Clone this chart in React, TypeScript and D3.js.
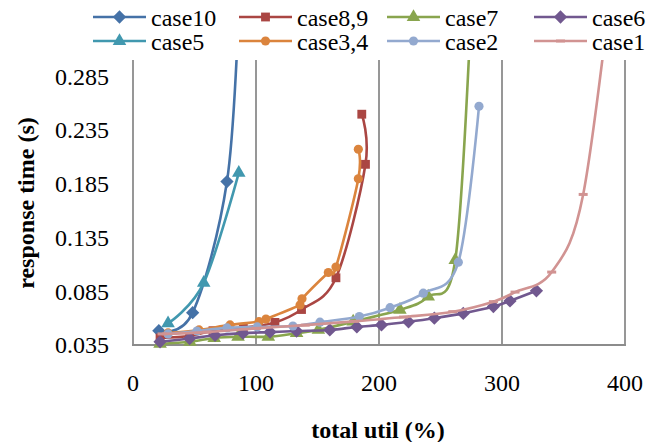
import { useEffect, useRef } from 'react';
import * as d3 from 'd3';

// series data: total util (%) and response time (s)
const case10Util = [21, 48.5, 76.4, 86];
const case10Resp = [0.0483, 0.0651, 0.187, 0.35];

const case89Util = [22, 46, 65, 89.7, 115.4, 137, 165, 189, 186];
const case89Resp = [0.0415, 0.0434, 0.0483, 0.0511, 0.056, 0.068, 0.0975, 0.203, 0.2496];

const case7Util = [22, 46.3, 66, 85.4, 110, 133, 150.7, 179, 217, 240, 262, 275];
const case7Resp = [0.036, 0.038, 0.0415, 0.0427, 0.0427, 0.046, 0.049, 0.0567, 0.0677, 0.08, 0.114, 0.35];

const case6Util = [22, 46, 66.7, 89.4, 111.4, 133, 160, 182, 202, 224, 245, 268.5, 293, 306.5, 328];
const case6Resp = [0.038, 0.041, 0.044, 0.046, 0.047, 0.048, 0.049, 0.0518, 0.0537, 0.0566, 0.0599, 0.0644, 0.0707, 0.076, 0.0854];

const case5Util = [28.5, 57.5, 86];
const case5Resp = [0.0552, 0.0928, 0.195];

const case34Util = [28.5, 53.7, 78.9, 102.4, 108.1, 135.8, 137.4, 158.8, 165, 183.2, 183.2];
const case34Resp = [0.0462, 0.049, 0.0537, 0.0567, 0.0591, 0.0723, 0.0779, 0.1024, 0.1075, 0.1896, 0.217];

const case2Util = [28.5, 52, 76.4, 101, 130, 152, 184, 209, 236, 264.5, 281.3];
const case2Resp = [0.0453, 0.048, 0.0509, 0.0518, 0.0527, 0.0562, 0.0615, 0.0697, 0.0832, 0.112, 0.257];

const case1Util = [23.6, 60, 100, 140, 180, 220, 260, 293, 310.6, 340.4, 366, 392];
const case1Resp = [0.0453, 0.047, 0.0505, 0.0535, 0.057, 0.061, 0.066, 0.0753, 0.0842, 0.1028, 0.175, 0.4];

const xTicks = [0, 100, 200, 300, 400];
const yTicks = [0.035, 0.085, 0.135, 0.185, 0.235, 0.285];

const series = [
  { name: 'case10', util: case10Util, resp: case10Resp, color: '#4572A7', marker: 'diamond' },
  { name: 'case8,9', util: case89Util, resp: case89Resp, color: '#AA4643', marker: 'square' },
  { name: 'case7', util: case7Util, resp: case7Resp, color: '#89A54E', marker: 'triangle' },
  { name: 'case6', util: case6Util, resp: case6Resp, color: '#71588F', marker: 'diamond' },
  { name: 'case5', util: case5Util, resp: case5Resp, color: '#4198AF', marker: 'triangle' },
  { name: 'case3,4', util: case34Util, resp: case34Resp, color: '#DB843D', marker: 'circle' },
  { name: 'case2', util: case2Util, resp: case2Resp, color: '#93A9CF', marker: 'circle' },
  { name: 'case1', util: case1Util, resp: case1Resp, color: '#D19392', marker: 'dash' },
];

const FONT = "'Liberation Serif', 'Times New Roman', serif";
const FS = 24;

function drawMarker(g: any, kind: string, x: number, y: number, color: string) {
  if (kind === 'dash') {
    g.append('rect')
      .attr('x', x - 4.5)
      .attr('y', y - 1.5)
      .attr('width', 9)
      .attr('height', 3)
      .attr('fill', color);
    return;
  }
  let sym;
  let rot = 0;
  if (kind === 'diamond') {
    sym = d3.symbol(d3.symbolSquare, 88);
    rot = 45;
  } else if (kind === 'square') {
    sym = d3.symbol(d3.symbolSquare, 78);
  } else if (kind === 'triangle') {
    sym = d3.symbol(d3.symbolTriangle, 80);
  } else {
    sym = d3.symbol(d3.symbolCircle, 66);
  }
  g.append('path')
    .attr('d', sym())
    .attr('transform', `translate(${x},${y}) rotate(${rot})`)
    .attr('fill', color);
}

export default function App() {
  const svgRef = useRef<SVGSVGElement>(null);

  useEffect(() => {
    if (!svgRef.current) return;
    const width = 657;
    const height = 442;
    const left = 133;
    const right = 625;
    const top = 60;
    const bottom = 345;

    const svg = d3.select(svgRef.current);
    svg.selectAll('*').remove();
    svg.attr('width', width).attr('height', height);

    const x = d3.scaleLinear().domain([0, 400]).range([left, right]);
    const y = d3.scaleLinear().domain([0.035, 0.3]).range([bottom, top]);

    svg.append('rect').attr('width', width).attr('height', height).attr('fill', '#fff');

    // clip for lines that run past the top of the plot
    svg.append('clipPath')
      .attr('id', 'plotClip')
      .append('rect')
      .attr('x', 0)
      .attr('y', top)
      .attr('width', width)
      .attr('height', height - top);

    const grid = '#8c8c8c';
    // vertical gridlines
    xTicks.slice(1).forEach((t) => {
      svg.append('line')
        .attr('x1', x(t)).attr('x2', x(t))
        .attr('y1', top).attr('y2', bottom)
        .attr('stroke', grid).attr('stroke-width', 1.8);
    });
    // axis lines
    svg.append('line')
      .attr('x1', left).attr('x2', left)
      .attr('y1', top).attr('y2', bottom)
      .attr('stroke', grid).attr('stroke-width', 1.8);
    svg.append('line')
      .attr('x1', left - 1).attr('x2', right + 1)
      .attr('y1', bottom).attr('y2', bottom)
      .attr('stroke', grid).attr('stroke-width', 1.8);

    // tick labels
    yTicks.forEach((t) => {
      svg.append('text')
        .attr('x', 109)
        .attr('y', y(t))
        .attr('dy', '0.35em')
        .attr('text-anchor', 'end')
        .attr('font-family', FONT)
        .attr('font-size', FS)
        .attr('fill', '#000')
        .text(t.toFixed(3));
    });
    xTicks.forEach((t) => {
      svg.append('text')
        .attr('x', x(t))
        .attr('y', 383)
        .attr('dy', '0.35em')
        .attr('text-anchor', 'middle')
        .attr('font-family', FONT)
        .attr('font-size', FS)
        .attr('fill', '#000')
        .text(String(t));
    });

    // axis titles
    svg.append('text')
      .attr('x', 378)
      .attr('y', 430)
      .attr('dy', '0.35em')
      .attr('text-anchor', 'middle')
      .attr('font-family', FONT)
      .attr('font-weight', 'bold')
      .attr('font-size', FS)
      .text('total util (%)');
    svg.append('text')
      .attr('transform', `translate(26,203) rotate(-90)`)
      .attr('dy', '0.35em')
      .attr('text-anchor', 'middle')
      .attr('font-family', FONT)
      .attr('font-weight', 'bold')
      .attr('font-size', FS)
      .text('response time (s)');

    const line = d3.line<[number, number]>()
      .x((d) => x(d[0]))
      .y((d) => y(d[1]))
      .curve(d3.curveCardinal.tension(0));

    // series
    series.forEach((s) => {
      const pts: [number, number][] = s.util.map((u, i) => [u, s.resp[i]]);
      const g = svg.append('g');
      g.append('path')
        .attr('d', line(pts))
        .attr('fill', 'none')
        .attr('stroke', s.color)
        .attr('stroke-width', 2.6)
        .attr('clip-path', 'url(#plotClip)');
      pts.forEach((p) => {
        if (p[1] > 0.3) return;
        drawMarker(g, s.marker, x(p[0]), y(p[1]), s.color);
      });
    });

    // legend
    const colX = [93, 239, 387, 534];
    const rowY = [17, 41];
    series.forEach((s, i) => {
      const lx = colX[i % 4];
      const ly = rowY[Math.floor(i / 4)];
      const g = svg.append('g');
      g.append('line')
        .attr('x1', lx).attr('x2', lx + 53)
        .attr('y1', ly).attr('y2', ly)
        .attr('stroke', s.color).attr('stroke-width', 2.6);
      drawMarker(g, s.marker, lx + 26.5, ly, s.color);
      g.append('text')
        .attr('x', lx + 58)
        .attr('y', ly + 1)
        .attr('dy', '0.35em')
        .attr('font-family', FONT)
        .attr('font-size', FS)
        .attr('fill', '#000')
        .text(s.name);
    });
  }, []);

  return (
    <svg ref={svgRef} style={{ position: 'absolute', left: 0, top: 0, display: 'block' }} />
  );
}
